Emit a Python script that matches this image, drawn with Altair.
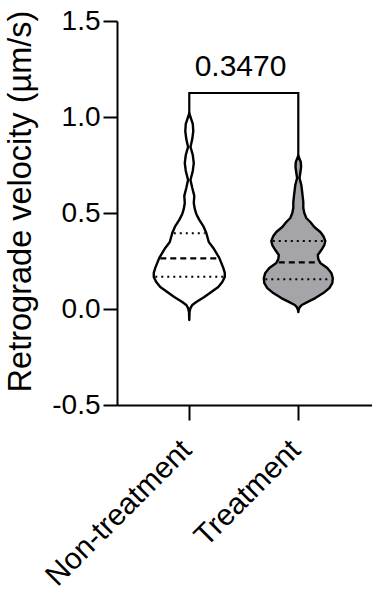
import altair as alt
import pandas as pd

groups = ["Non-treatment", "Treatment"]
group_pos = [1, 2]
fills = ["#ffffff", "#a5a5a9"]

# violin outline profiles: value (µm/s) and relative half-width
nt_values = [1.021, 1.000, 0.964, 0.927, 0.885, 0.844, 0.802, 0.760, 0.719, 0.672,
             0.630, 0.589, 0.552, 0.521, 0.495, 0.464, 0.432, 0.396, 0.349, 0.318,
             0.292, 0.266, 0.240, 0.214, 0.188, 0.167, 0.141, 0.115, 0.089, 0.063,
             0.036, 0.021, 0.005, -0.016, -0.057]
nt_width = [0, 1.2, 3.5, 4, 3, 1.2, 3.5, 4.5, 3.5, 1.2,
            3, 5, 4.5, 5.5, 7, 10, 14, 17, 19.5, 24,
            27, 30, 32, 34, 35.5, 35.5, 33, 29, 22, 15,
            7, 3, 1.2, 0.3, 0]

t_values = [0.800, 0.785, 0.766, 0.740, 0.708, 0.682, 0.646, 0.604, 0.557, 0.526,
            0.500, 0.474, 0.453, 0.427, 0.401, 0.380, 0.354, 0.333, 0.307, 0.281,
            0.260, 0.240, 0.214, 0.188, 0.161, 0.135, 0.109, 0.083, 0.057, 0.036,
            0.021, 0.010, -0.005, -0.016]
t_width = [0, 1, 2.5, 2.8, 2, 1.2, 3, 4, 5, 5,
           6, 8, 12, 16, 22, 25, 27, 26, 23, 19.5,
           20, 22, 29, 33, 34.5, 34, 31, 25, 17, 9,
           3.5, 1.5, 0.3, 0]

# quartiles (Q1, median, Q3) and half-widths of their lines
nt_quart = [0.168, 0.264, 0.394]
nt_quart_w = [34, 29, 15.5]
t_quart = [0.155, 0.243, 0.354]
t_quart_w = [33, 19.5, 25.5]
quart_kind = ["dot", "dash", "dot"]

p_value = "0.3470"
bracket_top = 1.125
y_ticks = [-0.5, 0.0, 0.5, 1.0, 1.5]

width_unit = 1 / 109.0  # relative width -> x units

rows = []
for g, pos, vals, ws in [(groups[0], group_pos[0], nt_values, nt_width),
                         (groups[1], group_pos[1], t_values, t_width)]:
    for v, w in zip(vals, ws):
        rows.append({"group": g, "value": v, "left": pos - w * width_unit,
                     "right": pos + w * width_unit})
violin_df = pd.DataFrame(rows)

qrows = []
for g, pos, qs, qw in [(groups[0], group_pos[0], nt_quart, nt_quart_w),
                       (groups[1], group_pos[1], t_quart, t_quart_w)]:
    for q, w, k in zip(qs, qw, quart_kind):
        qrows.append({"group": g, "value": q, "left": pos - w * width_unit,
                      "right": pos + w * width_unit, "kind": k})
quart_df = pd.DataFrame(qrows)

bracket_df = pd.DataFrame({
    "x": [group_pos[0], group_pos[0], group_pos[1], group_pos[1]],
    "y": [max(nt_values), bracket_top, bracket_top, max(t_values)],
    "o": [0, 1, 2, 3],
})
text_df = pd.DataFrame({"x": [1.47], "y": [1.214], "label": [p_value]})

xscale = alt.Scale(domain=[0.337, 2.676], nice=False, zero=False)
yscale = alt.Scale(domain=[-0.5, 1.5], nice=False, zero=False)

label_expr = "datum.value == 1 ? 'Non-treatment' : (datum.value == 2 ? 'Treatment' : '')"
ylabel_expr = "(datum.value < 0 ? '-' : '') + format(abs(datum.value), '.1f')"

violins = alt.Chart(violin_df).mark_area(
    orient="horizontal", stroke="black", strokeWidth=2.4, strokeJoin="round"
).encode(
    y=alt.Y("value:Q", scale=yscale,
            axis=alt.Axis(values=y_ticks, labelExpr=ylabel_expr, title="Retrograde velocity (µm/s)",
                          tickSize=14, tickWidth=2, domainWidth=2, labelFontSize=28,
                          labelPadding=3, titleFontSize=32.5, titleFontWeight="normal",
                          titleX=-80, titleY=180, grid=False,
                          domainColor="black", tickColor="black",
                          labelColor="black", titleColor="black")),
    x=alt.X("left:Q", scale=xscale,
            axis=alt.Axis(values=group_pos, labelExpr=label_expr, title=None,
                          tickSize=15, tickWidth=2, domainWidth=2, labelFontSize=30,
                          labelAngle=-45, labelAlign="right", labelBaseline="middle",
                          labelPadding=25, labelOffset=-3, labelLimit=500, grid=False,
                          domainColor="black", tickColor="black", labelColor="black")),
    x2="right:Q",
    color=alt.Color("group:N", scale=alt.Scale(domain=groups, range=fills), legend=None),
    detail="group:N",
)

dots = alt.Chart(quart_df).transform_filter("datum.kind == 'dot'").mark_rule(
    color="black", strokeWidth=2, strokeDash=[2, 4]
).encode(x=alt.X("left:Q", scale=xscale), x2="right:Q", y=alt.Y("value:Q", scale=yscale))

dashes = alt.Chart(quart_df).transform_filter("datum.kind == 'dash'").mark_rule(
    color="black", strokeWidth=2.2, strokeDash=[6, 4]
).encode(x=alt.X("left:Q", scale=xscale), x2="right:Q", y=alt.Y("value:Q", scale=yscale))

bracket = alt.Chart(bracket_df).mark_line(color="black", strokeWidth=2.2).encode(
    x=alt.X("x:Q", scale=xscale), y=alt.Y("y:Q", scale=yscale), order="o:Q"
)

ptext = alt.Chart(text_df).mark_text(fontSize=30, baseline="alphabetic", color="black").encode(
    x=alt.X("x:Q", scale=xscale), y=alt.Y("y:Q", scale=yscale), text="label:N"
)

chart = alt.layer(violins, dots, dashes, bracket, ptext).properties(
    width=255, height=384,
    autosize=alt.AutoSizeParams(type="none"),
    padding={"left": 117, "top": 21, "right": 0, "bottom": 195},
).configure(font="Liberation Sans").configure_view(stroke=None)

chart.save("out.html", embed_options={"renderer": "svg", "actions": False})
